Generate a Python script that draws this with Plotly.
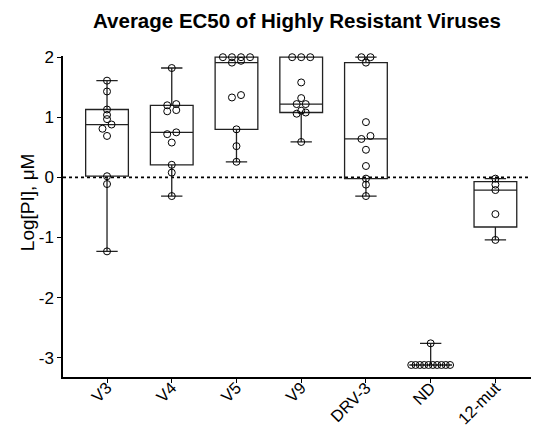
import numpy as np
import plotly.graph_objects as go

# ---- data ----
categories = ["V3", "V4", "V5", "V9", "DRV-3", "ND", "12-mut"]
v3 = [1.61, 1.43, 1.13, 1.04, 0.97, 0.88, 0.81, 0.69, 0.02, -0.11, -1.23]
v4 = [1.82, 1.22, 1.20, 1.12, 1.10, 0.75, 0.72, 0.58, 0.21, 0.08, -0.31]
v5 = [2.0, 2.0, 2.0, 2.0, 1.94, 1.91, 1.37, 1.33, 0.80, 0.52, 0.26]
v9 = [2.0, 2.0, 2.0, 1.58, 1.32, 1.22, 1.22, 1.11, 1.08, 1.06, 0.59]
drv3 = [2.0, 2.0, 1.91, 0.92, 0.69, 0.64, 0.46, 0.19, -0.02, -0.12, -0.31]
nd = [-2.76, -3.12, -3.12, -3.12, -3.12, -3.12, -3.12, -3.12, -3.12, -3.12, -3.12]
mut12 = [-0.02, -0.12, -0.21, -0.61, -1.04]
series = [v3, v4, v5, v9, drv3, nd, mut12]
y_ticks = [-3, -2, -1, 0, 1, 2]

FONT = "Liberation Sans, Arial, sans-serif"
BOX_COLOR = "#222222"
PLOT_H = 432 - 55.5 - 54.7


def swarm(vals, step=0.14, max_span=0.6):
    """Simple deterministic beeswarm: rows of 0.1 units, centred."""
    vals = np.asarray(vals, dtype=float)
    bins = np.floor(vals * 10 + 1e-9)
    offs = np.zeros(len(vals))
    for b in np.unique(bins):
        idx = np.where(bins == b)[0]
        idx = idx[np.argsort(vals[idx], kind="stable")]
        k = len(idx)
        s = step if k < 2 else min(step, max_span / (k - 1))
        offs[idx] = (np.arange(k) - (k - 1) / 2) * s
    return offs


fig = go.Figure()

for i, vals in enumerate(series):
    arr = np.asarray(vals, dtype=float)
    q1, med, q3 = np.percentile(arr, [25, 50, 75], method="weibull")
    fig.add_trace(go.Box(
        x=[i], q1=[q1], median=[med], q3=[q3],
        lowerfence=[arr.min()], upperfence=[arr.max()],
        width=0.66, whiskerwidth=0.5,
        fillcolor="rgba(0,0,0,0)",
        line=dict(color=BOX_COLOR, width=1.3),
        boxpoints=False, showlegend=False, hoverinfo="skip",
    ))

for i, vals in enumerate(series):
    offs = swarm(vals)
    fig.add_trace(go.Scatter(
        x=i + offs, y=vals, mode="markers",
        marker=dict(symbol="circle-open", size=7, color="black",
                    line=dict(width=1, color="black")),
        cliponaxis=False, showlegend=False,
    ))

fig.add_shape(type="line", xref="paper", yref="y", x0=0, x1=1, y0=0, y1=0,
              line=dict(color="black", width=1.8, dash="dot"), layer="below")

fig.update_layout(
    width=533, height=432,
    margin=dict(l=63, r=2, t=55.5, b=54.7, autoexpand=False),
    paper_bgcolor="white", plot_bgcolor="white",
    font=dict(family=FONT, size=17, color="black"),
    title=dict(text="<b>Average EC50 of Highly Resistant Viruses</b>",
               x=0.5, xref="paper", xanchor="center",
               y=1 - 21 / 432, yref="container", yanchor="middle",
               font=dict(family=FONT, size=20.5, color="black")),
    xaxis=dict(range=[-0.68, 6.55], tickmode="array",
               tickvals=list(range(len(categories))), ticktext=categories,
               tickangle=-45, ticks="outside", ticklen=4, tickwidth=1.2,
               tickcolor="black", showline=True, linecolor="black",
               linewidth=1.5, showgrid=False, zeroline=False,
               automargin=False, ticklabelstandoff=-11,
               tickfont=dict(size=16.5)),
    yaxis=dict(range=[-3.32, 2.02], tickmode="array", tickvals=y_ticks,
               ticktext=[str(t) for t in y_ticks],
               ticks="outside", ticklen=4, tickwidth=1.2, tickcolor="black",
               showline=True, linecolor="black", linewidth=1.5,
               showgrid=False, zeroline=False, automargin=False,
               tickfont=dict(size=17)),
    annotations=[dict(text="Log[PI], μM", textangle=-90,
                      xref="paper", yref="paper",
                      x=(27 - 63) / 468, y=1 - (202 - 55.5) / PLOT_H,
                      xanchor="center", yanchor="middle", showarrow=False,
                      font=dict(family=FONT, size=19, color="black"))],
)

fig.write_html("out.html")
